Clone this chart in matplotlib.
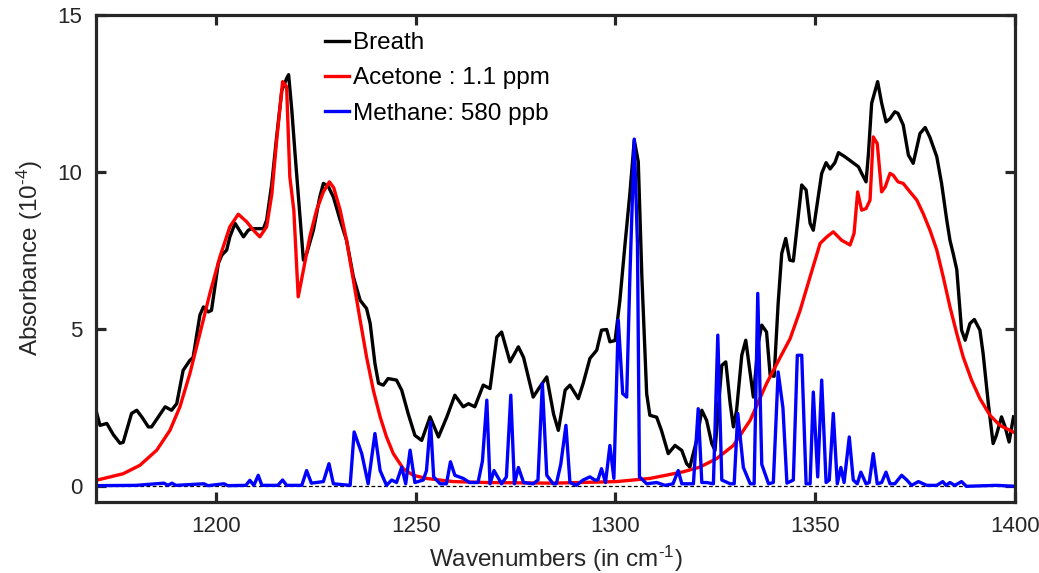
import numpy as np
import matplotlib
matplotlib.use("Agg")
import matplotlib.pyplot as plt

# Breath spectrum (absorbance in 1e-4)
breath_x = [1170.2, 1171.0, 1172.7, 1174.3, 1176.0, 1176.8, 1178.9, 1180.2, 1181.5, 1183.1,
            1183.9, 1187.3, 1188.9, 1190.2, 1191.8, 1193.5, 1194.3, 1196.0, 1196.9, 1198.1,
            1198.9, 1200.6, 1201.5, 1202.7, 1203.5, 1204.8, 1206.9, 1208.1, 1209.0, 1211.9,
            1212.7, 1214.0, 1215.2, 1216.5, 1217.7, 1218.2, 1219.0, 1219.8, 1220.6, 1221.9,
            1222.7, 1224.4, 1226.0, 1226.9, 1228.1, 1229.4, 1231.1, 1232.7, 1234.4, 1236.1,
            1237.7, 1238.6, 1239.8, 1240.7, 1241.9, 1243.1, 1245.2, 1246.5, 1248.1, 1249.8,
            1251.5, 1253.6, 1255.7, 1257.8, 1259.8, 1261.9, 1263.2, 1264.8, 1266.9, 1268.6,
            1270.3, 1271.5, 1273.6, 1275.7, 1277.0, 1279.4, 1281.1, 1282.8, 1284.5, 1285.7,
            1287.4, 1288.6, 1290.7, 1291.9, 1293.6, 1295.3, 1296.5, 1297.8, 1298.6, 1299.9,
            1301.1, 1302.4, 1303.6, 1304.7, 1305.7, 1306.6, 1307.8, 1308.6, 1310.3, 1311.5,
            1313.2, 1314.9, 1316.6, 1317.8, 1318.6, 1320.3, 1321.6, 1322.8, 1324.1, 1324.9,
            1326.6, 1327.6, 1328.7, 1329.5, 1330.3, 1331.6, 1332.6, 1333.7, 1334.5, 1335.7,
            1336.6, 1337.8, 1338.7, 1339.7, 1340.7, 1341.6, 1342.6, 1343.6, 1344.5, 1346.6,
            1347.7, 1348.7, 1349.5, 1351.6, 1352.7, 1353.7, 1354.9, 1355.8, 1357.4, 1359.1,
            1360.8, 1361.6, 1362.7, 1363.3, 1364.1, 1365.6, 1366.6, 1367.7, 1368.7, 1369.9,
            1370.7, 1372.0, 1373.3, 1374.5, 1376.2, 1377.5, 1378.7, 1380.4, 1381.6, 1382.9,
            1383.7, 1384.5, 1385.4, 1386.6, 1387.5, 1388.7, 1389.8, 1391.2, 1392.0, 1393.3,
            1394.5, 1395.3, 1396.6, 1397.5, 1398.5, 1399.6]
breath_y = [2.32, 1.94, 2.00, 1.65, 1.37, 1.40, 2.32, 2.42, 2.20, 1.89,
            1.89, 2.53, 2.42, 2.63, 3.69, 4.01, 4.10, 5.45, 5.71, 5.55,
            5.60, 7.09, 7.36, 7.52, 7.94, 8.37, 7.94, 8.15, 8.20, 8.20,
            8.47, 9.64, 11.12, 12.60, 12.98, 13.10, 11.97, 10.60, 9.32, 7.20,
            7.40, 8.15, 9.21, 9.64, 9.55, 9.21, 8.47, 7.83, 6.67, 5.92,
            5.66, 5.19, 3.91, 3.28, 3.22, 3.43, 3.38, 3.06, 2.32, 1.62,
            1.46, 2.21, 1.57, 2.21, 2.90, 2.53, 2.63, 2.53, 3.22, 3.11,
            4.75, 4.91, 3.96, 4.44, 4.10, 2.84, 3.17, 3.48, 2.30, 1.78,
            3.06, 3.22, 2.79, 3.27, 4.07, 4.33, 4.97, 4.99, 4.60, 4.64,
            5.92, 7.73, 9.32, 11.02, 10.33, 6.67, 2.95, 2.26, 2.20, 1.78,
            1.04, 1.30, 1.14, 0.72, 0.61, 1.46, 2.42, 2.10, 1.36, 1.14,
            3.85, 3.96, 2.63, 1.89, 2.42, 4.17, 4.65, 3.59, 2.84, 4.54,
            5.13, 4.91, 3.54, 3.50, 5.82, 7.41, 7.89, 7.20, 7.17, 9.59,
            9.43, 8.37, 8.15, 9.96, 10.30, 10.10, 10.30, 10.62, 10.49, 10.33,
            10.17, 9.96, 9.69, 10.59, 12.19, 12.88, 12.20, 11.60, 11.70, 11.92,
            11.87, 11.50, 10.54, 10.28, 11.23, 11.42, 11.10, 10.49, 9.64, 8.47,
            7.83, 7.41, 6.90, 4.97, 4.65, 5.18, 5.31, 4.97, 4.22, 2.63,
            1.36, 1.62, 2.21, 1.89, 1.41, 2.21]

# Acetone fit, 1.1 ppm
acetone_x = [1170.0, 1176.8, 1181.0, 1185.2, 1188.5, 1191.0, 1193.5, 1196.0, 1198.5, 1201.0,
             1203.5, 1205.6, 1207.7, 1209.4, 1211.0, 1212.7, 1214.0, 1215.2, 1216.7, 1217.7,
             1218.5, 1219.5, 1220.6, 1221.9, 1223.5, 1225.2, 1226.9, 1228.4, 1229.5, 1231.1,
             1232.7, 1234.4, 1236.1, 1237.7, 1239.4, 1241.1, 1242.7, 1244.4, 1246.9, 1249.4,
             1252.7, 1259.4, 1267.7, 1284.4, 1300.3, 1308.6, 1316.9, 1321.1, 1325.3, 1329.5,
             1333.7, 1337.8, 1341.2, 1343.7, 1346.2, 1348.7, 1351.2, 1352.9, 1354.5, 1356.6,
             1358.7, 1359.7, 1360.6, 1361.6, 1362.7, 1363.7, 1364.5, 1365.5, 1366.6, 1367.5,
             1368.7, 1369.5, 1370.7, 1372.0, 1373.7, 1375.4, 1377.0, 1378.7, 1380.4, 1382.0,
             1383.7, 1385.4, 1387.0, 1389.1, 1391.2, 1393.7, 1396.2, 1400.0]
acetone_y = [0.19, 0.40, 0.67, 1.15, 1.78, 2.53, 3.59, 4.86, 6.14, 7.30,
             8.26, 8.66, 8.42, 8.15, 7.94, 8.26, 9.30, 11.00, 12.88, 12.72,
             9.85, 8.79, 6.03, 6.88, 7.94, 8.79, 9.37, 9.69, 9.50, 8.79,
             7.83, 6.56, 5.29, 4.12, 3.06, 2.21, 1.57, 1.04, 0.56, 0.35,
             0.25, 0.15, 0.12, 0.10, 0.15, 0.25, 0.46, 0.61, 0.88, 1.30,
             2.10, 3.27, 4.10, 4.70, 5.60, 6.67, 7.73, 7.94, 8.10, 7.83,
             7.68, 8.05, 9.37, 8.79, 8.84, 9.11, 11.12, 10.91, 9.37, 9.53,
             9.96, 9.90, 9.69, 9.64, 9.37, 9.11, 8.68, 8.15, 7.52, 6.67,
             5.71, 4.86, 4.12, 3.38, 2.79, 2.26, 1.94, 1.70]

# Methane fit, 580 ppb
methane_x = [1170.0, 1180.0, 1187.0, 1188.0, 1189.0, 1190.0, 1197.0, 1198.0, 1202.0, 1203.0,
             1207.5, 1208.5, 1209.5, 1210.6, 1211.5, 1215.5, 1216.7, 1217.7, 1221.5, 1222.7,
             1223.9, 1226.9, 1228.3, 1229.4, 1233.6, 1234.6, 1236.5, 1238.1, 1239.8, 1241.1,
             1242.7, 1244.0, 1245.2, 1246.5, 1247.5, 1248.6, 1249.8, 1251.9, 1252.7, 1253.7,
             1254.5, 1256.1, 1257.7, 1258.7, 1259.8, 1261.9, 1263.5, 1265.6, 1266.7, 1267.8,
             1268.6, 1269.6, 1271.5, 1272.7, 1273.8, 1274.7, 1275.7, 1277.0, 1279.4, 1280.6,
             1281.7, 1282.8, 1284.4, 1285.2, 1286.3, 1287.6, 1288.6, 1290.2, 1291.9, 1293.6,
             1294.8, 1295.6, 1296.5, 1297.5, 1298.6, 1299.6, 1300.7, 1301.8, 1302.8, 1303.6,
             1304.7, 1305.5, 1306.0, 1307.8, 1310.3, 1312.4, 1314.4, 1315.7, 1316.6, 1319.5,
             1320.7, 1321.6, 1322.8, 1324.5, 1325.6, 1326.6, 1328.7, 1329.7, 1330.6, 1332.0,
             1333.7, 1334.7, 1335.6, 1336.6, 1338.3, 1339.5, 1340.7, 1341.9, 1342.9, 1344.5,
             1345.5, 1346.6, 1347.7, 1348.7, 1349.5, 1350.6, 1351.6, 1352.7, 1353.5, 1354.5,
             1355.5, 1356.4, 1357.2, 1358.5, 1359.5, 1360.5, 1361.4, 1362.7, 1363.5, 1364.5,
             1365.5, 1366.6, 1367.7, 1368.7, 1369.9, 1371.6, 1372.9, 1374.1, 1375.8, 1377.9,
             1380.4, 1381.9, 1382.7, 1383.7, 1384.9, 1386.6, 1387.8, 1395.3, 1400.0]
methane_y = [0.02, 0.03, 0.10, 0.03, 0.10, 0.03, 0.08, 0.02, 0.08, 0.02,
             0.03, 0.19, 0.03, 0.35, 0.03, 0.03, 0.20, 0.03, 0.03, 0.50,
             0.10, 0.15, 0.72, 0.08, 0.03, 1.73, 1.04, 0.08, 1.68, 0.50,
             0.03, 0.20, 0.12, 0.61, 0.08, 1.15, 0.12, 0.20, 0.50, 2.05,
             0.30, 0.08, 0.08, 0.78, 0.35, 0.25, 0.12, 0.12, 0.80, 2.74,
             0.08, 0.50, 0.08, 0.30, 2.90, 0.08, 0.60, 0.12, 0.08, 0.20,
             3.27, 0.35, 0.08, 0.08, 0.70, 1.94, 0.12, 0.03, 0.20, 0.30,
             0.20, 0.20, 0.56, 0.12, 1.30, 0.25, 5.29, 2.95, 2.84, 6.67,
             11.05, 7.70, 0.30, 0.08, 0.12, 0.03, 0.08, 0.50, 0.08, 0.08,
             2.47, 0.12, 0.12, 0.08, 4.81, 0.20, 0.08, 0.08, 2.32, 0.60,
             0.08, 0.08, 6.14, 0.70, 0.08, 0.12, 3.64, 2.50, 0.10, 0.20,
             4.17, 4.17, 0.08, 0.08, 3.00, 0.30, 3.38, 0.12, 0.20, 2.32,
             0.08, 0.60, 0.12, 1.57, 0.20, 0.08, 0.45, 0.08, 0.12, 1.04,
             0.08, 0.12, 0.45, 0.08, 0.08, 0.35, 0.20, 0.03, 0.15, 0.03,
             0.03, 0.15, 0.03, 0.12, 0.03, 0.15, 0.00, 0.03, 0.00]

x_ticks = [1200, 1250, 1300, 1350, 1400]
y_ticks = [0, 5, 10, 15]

plt.rcParams['font.family'] = ['Liberation Sans', 'DejaVu Sans']
plt.rcParams['mathtext.fontset'] = 'custom'
plt.rcParams['mathtext.rm'] = 'Liberation Sans'
plt.rcParams['mathtext.it'] = 'Liberation Sans'

frame_color = '#262626'
fs = 17.5

fig = plt.figure(figsize=(10.39, 5.73), dpi=100)
ax = fig.add_axes([0.0924, 0.1239, 0.8846, 0.8499])

ax.plot(breath_x, breath_y, color='black', lw=2.4, label='Breath')
ax.plot(acetone_x, acetone_y, color='#ff0000', lw=2.4, label='Acetone : 1.1 ppm')
ax.plot(methane_x, methane_y, color='#0000ff', lw=2.4, label='Methane: 580 ppb')
ax.axhline(0, color='black', lw=0.9, ls=(0, (3, 2)), zorder=0.5)

ax.set_xlim(1170, 1400)
ax.set_ylim(-0.5, 15)
ax.set_xticks(x_ticks)
ax.set_yticks(y_ticks)

# MATLAB-like box with inward ticks on all sides
for spine in ax.spines.values():
    spine.set_linewidth(2.3)
    spine.set_color(frame_color)
ax.tick_params(direction='in', length=7, width=2.3, colors=frame_color,
               labelcolor='#262626', labelsize=16, top=True, right=True, pad=10)

# superscripts with a plain hyphen like the original
ax.set_xlabel(r'Wavenumbers (in cm$^{\text{-1}}$)', fontsize=fs, color='#262626', labelpad=5)
ax.set_ylabel(r'Absorbance (10$^{\text{-4}}$)', fontsize=fs, color='#262626', labelpad=9)

leg = ax.legend(loc='upper left', bbox_to_anchor=(0.233, 0.995), frameon=False,
                fontsize=fs, handlelength=1.0, handletextpad=0.15, labelspacing=0.55,
                borderaxespad=0.2)

fig.savefig('out.png', dpi=100)
